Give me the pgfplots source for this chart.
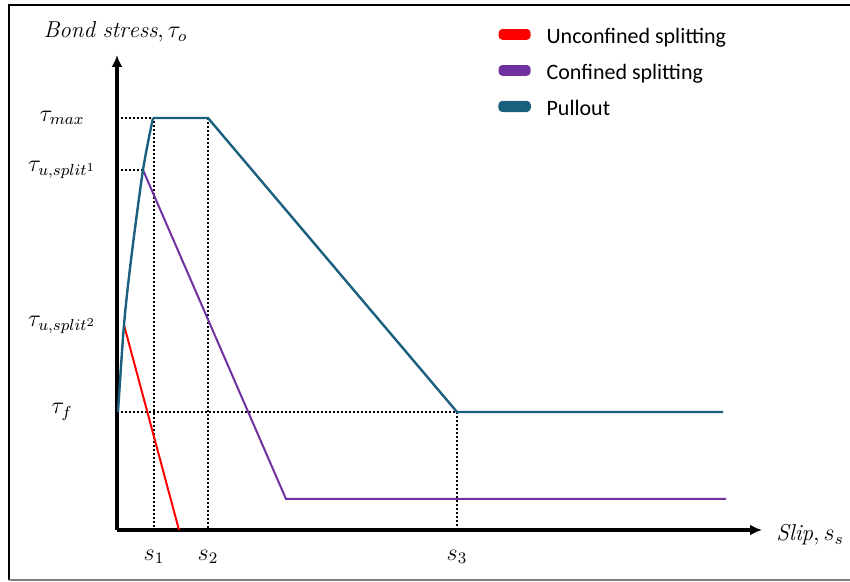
\documentclass[border=0pt]{standalone}
\usepackage{fontspec}
\newfontfamily\legfont{Carlito}
\usepackage{pgfplots}
\pgfplotsset{compat=1.18}
\usetikzlibrary{arrows.meta}
\definecolor{pullblue}{RGB}{26,95,126}
\definecolor{confpurple}{RGB}{112,48,160}
\definecolor{unred}{RGB}{255,0,0}
\begin{document}
\begin{tikzpicture}
\begin{axis}[
  scale only axis, width=322.5pt, height=237.5pt,
  xmin=0, xmax=645, ymin=0, ymax=475,
  axis lines=left,
  axis line style={line width=2pt, -{Latex[length=6pt,width=5.5pt]}},
  clip=false,
  xtick={37,91,340}, xticklabels={$s_1$,$s_2$,$s_3$},
  ytick={118,205,360,412},
  yticklabels={$\tau_f$,$\tau_{u,split^2}$,$\tau_{u,split^1}$,$\tau_{max}$},
  major tick length=0pt,
  tick label style={font=\fontsize{12}{14}\selectfont},
  xticklabel style={anchor=center, yshift=-13.5pt},
  yticklabel style={anchor=center, xshift=-27.5pt},
  xlabel={$\mathit{Slip},s_s$},
  ylabel={$\mathit{Bond\ stress},\tau_o$},
  label style={font=\fontsize{11.5}{13}\selectfont},
  xlabel style={at={(axis description cs:1.0744,-0.0105)}, anchor=center},
  ylabel style={rotate=-90, at={(axis description cs:-0.0023,1.0484)}, anchor=center},
  legend style={draw=none, fill=none, at={(axis description cs:0.5907,1.0589)}, anchor=north west,
    font=\legfont\fontsize{11}{13}\selectfont, row sep=7pt, inner sep=0pt,
    nodes={inner sep=0pt, text height=8pt, text depth=3pt}},
  legend cell align=left,
  legend image code/.code={\fill[rounded corners=1.5pt] (0pt,-0.2pt) rectangle (15pt,4.2pt); \path[draw=none] (0pt,0pt) -- (23.5pt,0pt);},
  dotline/.style={forget plot, black, line width=1pt, dash pattern=on 1pt off 1pt},
]
% guide lines
\addplot[dotline] coordinates {(0,412) (37,412) (37,0)};
\addplot[dotline] coordinates {(0,360) (26,360)};
\addplot[dotline] coordinates {(91,412) (91,0)};
\addplot[dotline] coordinates {(0,118) (340,118) (340,0)};
% series
\addplot[unred, line width=1pt] coordinates {(7,205) (62,0)};
\addlegendentry{Unconfined splitting}
\addplot[confpurple, line width=1pt] coordinates {(26,360) (169,31) (609,31)};
\addlegendentry{Confined splitting}
\addplot[pullblue, line width=1.2pt, line join=round] coordinates {(36,412) (91,412) (340,118) (606,118)};
\addlegendentry{Pullout}
\addplot[forget plot, pullblue, line width=1.2pt, smooth, tension=0.5] coordinates {(1,118) (7,205) (14,270) (26,360) (36,412)};
% frame
\draw[line width=1pt] (axis cs:-109,525) -- (axis cs:733,525);
\draw[line width=1.2pt] (axis cs:-108,525.5) -- (axis cs:-108,-50);
\draw[line width=0.8pt, gray] (axis cs:-108,-50) -- (axis cs:733,-50);
\coordinate (bbll) at (axis cs:-117,-52);
\coordinate (bbur) at (axis cs:733,530);
\end{axis}
\pgfresetboundingbox
\useasboundingbox (bbll) rectangle (bbur);
\end{tikzpicture}
\end{document}
